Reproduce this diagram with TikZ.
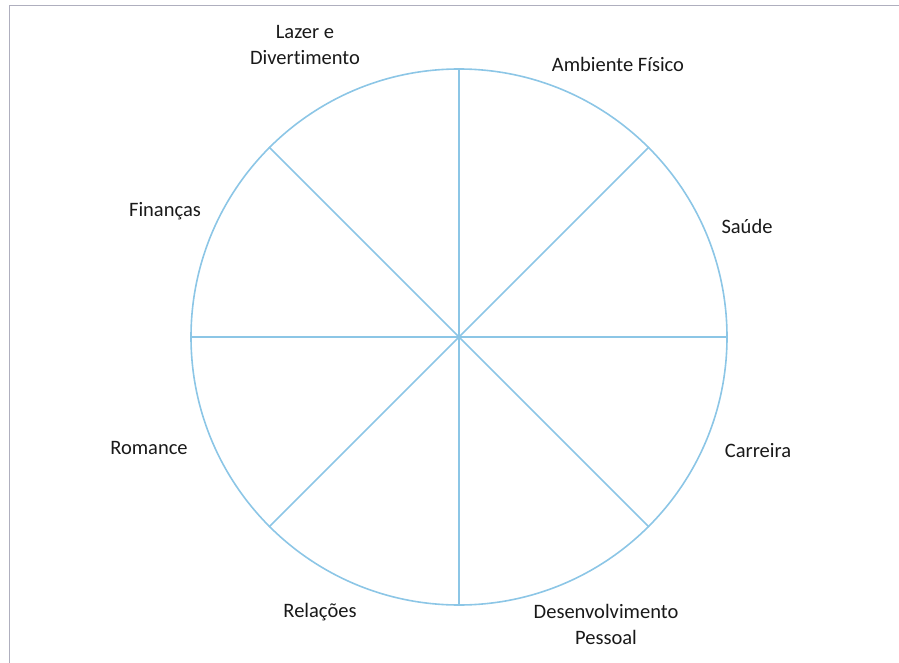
\documentclass[tikz,border=0pt]{standalone}
\usepackage{fontspec}
\setmainfont[Ligatures=NoCommon]{Carlito}
\usepackage{xcolor}
\definecolor{wheelblue}{RGB}{140,198,230}
\definecolor{framegray}{RGB}{175,175,190}

\begin{document}
\begin{tikzpicture}[
    x=1pt, y=-1pt,
    wheel/.style={circle, draw=wheelblue, line width=1.6pt, minimum size=536pt, inner sep=0pt},
    spoke/.style={draw=wheelblue, line width=1.6pt},
    area/.style={align=center, font=\fontsize{20.5}{26}\selectfont, text=black!90, inner sep=0pt}
]
\useasboundingbox (0,0) rectangle (899,663);

% frame
\coordinate (ftr) at (899,5);
\coordinate (ftl) at (9,5);
\coordinate (fbl) at (9,663);
\draw[framegray, line width=0.6pt] (ftr) -- (ftl) -- (fbl);

% wheel
\node[wheel] (wheel) at (459,337) {};
\draw[spoke] (wheel.north) -- (wheel.south);
\draw[spoke] (wheel.west)  -- (wheel.east);
\draw[spoke] (wheel.45)    -- (wheel.225);
\draw[spoke] (wheel.135)   -- (wheel.315);

% areas
\node[area] (lazer)    at (305,45)  {Lazer e\\Divertimento};
\node[area] (ambiente) at (618,64)  {Ambiente Físico};
\node[area] (saude)    at (747,226) {Saúde};
\node[area] (carreira) at (758,451) {Carreira};
\node[area] (desenv)   at (606,624) {Desenvolvimento\\Pessoal};
\node[area] (relacoes) at (320,612) {Relações};
\node[area] (romance)  at (149,448) {Romance};
\node[area] (financas) at (165,211) {Finanças};
\end{tikzpicture}
\end{document}
